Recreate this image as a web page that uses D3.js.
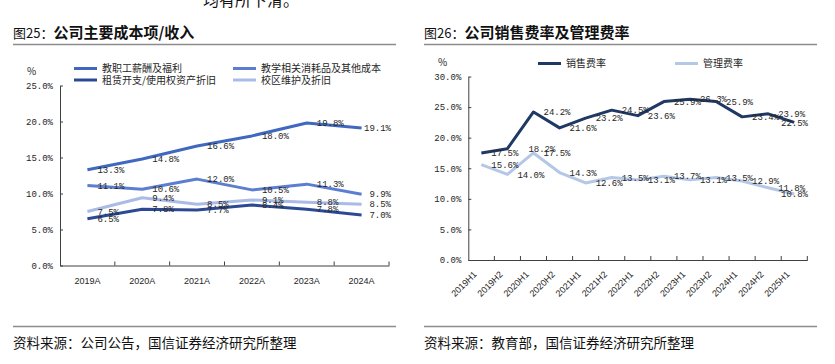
<!DOCTYPE html>
<html><head><meta charset="utf-8">
<script src="https://cdn.jsdelivr.net/npm/d3@7"></script>
<style>
html,body{margin:0;padding:0;background:#fff;}
svg{display:block;}
</style></head>
<body>
<svg id="c" width="835" height="364"></svg>
<script>
// ---- Data: left chart ----
const yearsA = ["2019A","2020A","2021A","2022A","2023A","2024A"];
const staffCost = [13.3,14.8,16.6,18.0,19.8,19.1];      // 教职工薪酬及福利
const teachingCost = [11.1,10.6,12.0,10.5,11.3,9.9];     // 教学相关消耗品及其他成本
const rentCost = [6.5,7.8,7.7,8.4,7.8,7.0];              // 租赁开支/使用权资产折旧
const campusCost = [7.5,9.4,8.5,9.1,8.8,8.5];            // 校区维护及折旧
const leftTicks = [0,5,10,15,20,25];

// ---- Data: right chart ----
const halves = ["2019H1","2019H2","2020H1","2020H2","2021H1","2021H2","2022H1","2022H2","2023H1","2023H2","2024H1","2024H2","2025H1"];
const salesRate = [17.5,18.2,24.2,21.6,23.2,24.5,23.6,25.9,26.3,25.9,23.4,23.9,22.5];  // 销售费率
const adminRate = [15.6,14.0,17.5,14.3,12.6,13.5,13.1,13.7,13.1,13.5,12.9,11.8,10.8];  // 管理费率
const rightTicks = [0,5,10,15,20,25,30];

const svg = d3.select("#c");
const CJK = "'Noto Sans CJK SC', sans-serif";
const NUM = "'Liberation Mono', 'DejaVu Sans Mono', monospace";
const AXC = "#404040";
const TXT = "#262626";

// partial paragraph text at top
svg.append("text").attr("x",203).attr("y",6).attr("font-family",CJK).attr("font-size",16).attr("fill","#111").text("均有所下滑。");

function header(x0, x1, num, title){
  const t = svg.append("text").attr("x",x0).attr("y",38).attr("font-family",CJK).attr("fill","#111");
  t.append("tspan").attr("font-size",13).text("图"+num+"：");
  t.append("tspan").attr("font-size",15).attr("font-weight","bold").text(title);
  svg.append("line").attr("x1",x0).attr("x2",x1).attr("y1",44.5).attr("y2",44.5).attr("stroke","#8c8c8c").attr("stroke-width",1.5);
  svg.append("line").attr("x1",x0).attr("x2",x1).attr("y1",326.5).attr("y2",326.5).attr("stroke","#8c8c8c").attr("stroke-width",1.5);
}
header(13,396,"25","公司主要成本项/收入");
header(424,817,"26","公司销售费率及管理费率");
svg.append("text").attr("x",13).attr("y",347.5).attr("font-family",CJK).attr("font-size",13.5).attr("fill","#111").text("资料来源：公司公告，国信证券经济研究所整理");
svg.append("text").attr("x",424).attr("y",347.5).attr("font-family",CJK).attr("font-size",13.5).attr("fill","#111").text("资料来源：教育部，国信证券经济研究所整理");

function drawChart(cfg){
  const x = d3.scaleBand().domain(cfg.cats).range(cfg.xr);
  const y = d3.scaleLinear().domain([0, d3.max(cfg.ticks)]).range(cfg.yr);
  const cx = c => x(c) + x.bandwidth()/2;
  const g = svg.append("g");

  // y axis
  const ya = g.append("g").attr("transform",`translate(${cfg.xr[0]},0)`)
    .call(d3.axisLeft(y).tickValues(cfg.ticks).tickFormat(d=>d.toFixed(1)+"%").tickSizeInner(-3).tickSizeOuter(0).tickPadding(7));
  ya.select(".domain").attr("stroke",AXC);
  ya.selectAll(".tick line").attr("stroke",AXC);
  ya.selectAll("text").attr("font-family",NUM).attr("font-size",9).attr("fill",TXT);

  // x axis
  const xa = g.append("g").attr("transform",`translate(0,${cfg.yr[0]})`)
    .call(d3.axisBottom(x).tickSize(0).tickSizeOuter(0).tickPadding(cfg.rot ? 0 : 12));
  xa.select(".domain").attr("stroke",AXC);
  xa.selectAll(".tick line").remove();
  const xt = xa.selectAll("text").attr("font-family","'Liberation Sans', Arial, sans-serif").attr("font-size",9).attr("fill",TXT);
  if(cfg.rot){
    xt.attr("text-anchor","end").attr("dy",null).attr("y",null)
      .attr("transform","translate(-4,15) rotate(-45)");
  }
  // boundary ticks (inward)
  const bounds = cfg.cats.map(c=>x(c)).concat([x(cfg.cats[cfg.cats.length-1]) + x.bandwidth()]);
  g.selectAll(".bt").data(bounds.slice(1)).join("line")
    .attr("x1",d=>d).attr("x2",d=>d).attr("y1",cfg.yr[0]).attr("y2",cfg.yr[0]-4).attr("stroke",AXC);

  // "%" unit
  g.append("text").attr("x",cfg.unitX).attr("y",cfg.unitY).attr("dy","0.35em").attr("font-family",CJK).attr("font-size",10).attr("fill",TXT).text("%");

  // lines
  const line = d3.line().x((d,i)=>cx(cfg.cats[i])).y(d=>y(d));
  cfg.series.forEach(s=>{
    g.append("path").datum(s.values).attr("d",line).attr("fill","none")
      .attr("stroke",s.color).attr("stroke-width",3).attr("stroke-linejoin","round");
  });
  // labels
  const last = cfg.cats.length-1;
  cfg.series.forEach(s=>{
    s.values.forEach((v,i)=>{
      const px = cx(cfg.cats[i]);
      const isLast = i===last;
      const dx = (s.dx && s.dx[i]!=null) ? s.dx[i] : 10;
      g.append("text")
        .attr("x", isLast ? cfg.lastEnd : px + dx)
        .attr("y", y(v)).attr("dy","0.35em")
        .attr("text-anchor", isLast ? "end" : "start")
        .attr("font-family",NUM).attr("font-size",9).attr("fill",TXT)
        .text(v.toFixed(1)+"%");
    });
  });

  // legend
  cfg.legend.forEach(l=>{
    g.append("line").attr("x1",l.x).attr("x2",l.x+23).attr("y1",l.y).attr("y2",l.y)
      .attr("stroke",l.color).attr("stroke-width",3);
    g.append("text").attr("x",l.x+28).attr("y",l.y).attr("dy","0.35em")
      .attr("font-family",CJK).attr("font-size",10).attr("fill",TXT).text(l.name);
  });
}

const C = {staff:"#4068c0", teach:"#5b7ed0", rent:"#2c4a94", campus:"#a9bbe6", sales:"#1f3864", admin:"#b4c7e7"};

drawChart({
  cats: yearsA, ticks: leftTicks, xr:[60,389], yr:[265.5,85.5], rot:false,
  unitX:27, unitY:71, lastEnd:391,
  series:[
    {values:campusCost, color:C.campus},
    {values:teachingCost, color:C.teach},
    {values:staffCost, color:C.staff},
    {values:rentCost, color:C.rent}
  ],
  legend:[
    {name:"教职工薪酬及福利", color:C.staff, x:74, y:68.5},
    {name:"租赁开支/使用权资产折旧", color:C.rent, x:74, y:80},
    {name:"教学相关消耗品及其他成本", color:C.teach, x:233, y:68.5},
    {name:"校区维护及折旧", color:C.campus, x:233, y:80}
  ]
});

drawChart({
  cats: halves, ticks: rightTicks, xr:[468.3,807.3], yr:[260,76.5], rot:true,
  unitX:438, unitY:62, lastEnd:808,
  series:[
    {values:adminRate, color:C.admin},
    {values:salesRate, color:C.sales, dx:[null,21]}
  ],
  legend:[
    {name:"销售费率", color:C.sales, x:538, y:63.5},
    {name:"管理费率", color:C.admin, x:675, y:63.5}
  ]
});
</script>
</body></html>
